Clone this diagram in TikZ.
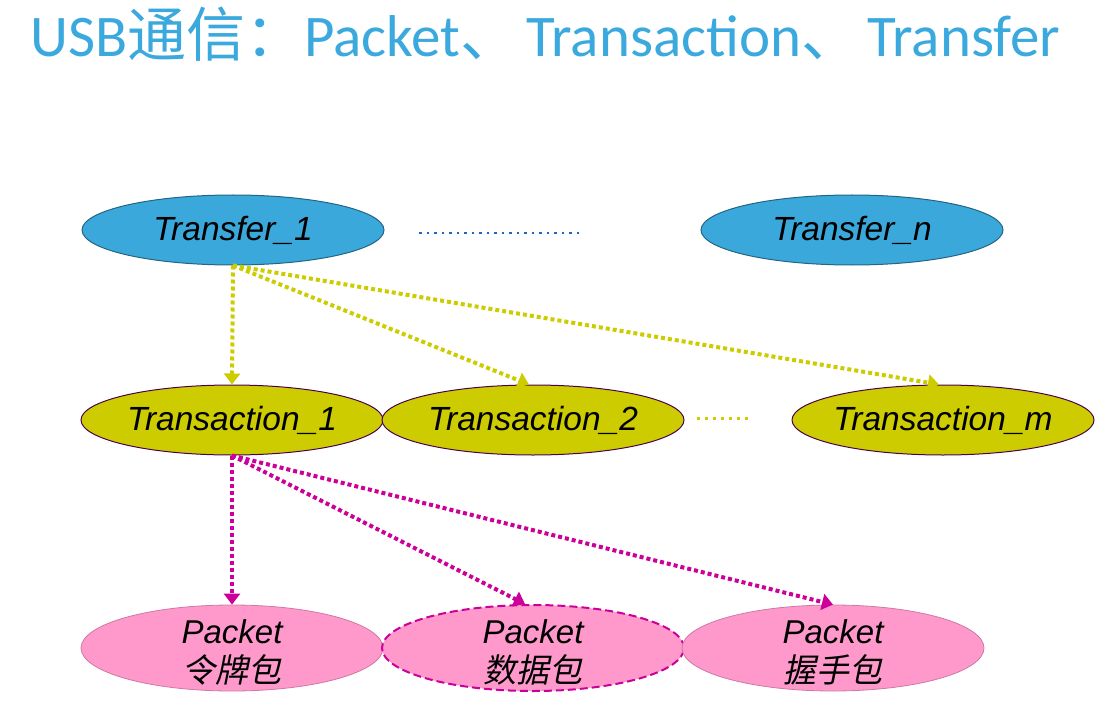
\documentclass[tikz,border=0pt]{standalone}
\usepackage{fontspec}
\setmainfont{Liberation Sans}
\newfontfamily\titlefont{Carlito}
\newfontfamily\cjk{Noto Sans CJK SC}
\newfontfamily\cjkit[FakeSlant=0.2]{Noto Sans CJK SC}
\usetikzlibrary{shapes.geometric,arrows.meta}
\definecolor{titleblue}{HTML}{3BA9DE}
\definecolor{xferblue}{HTML}{3AA8DA}
\definecolor{transyel}{HTML}{CCCC00}
\definecolor{pktpink}{HTML}{FF99CC}
\definecolor{pktmag}{HTML}{CC0099}
\tikzset{
  blob/.style={ellipse, minimum width=302pt, minimum height=70pt, inner xsep=-30pt, inner ysep=-15pt, font=\itshape\fontsize{33.5}{36}\selectfont},
  xfer/.style={blob, fill=xferblue, draw=xferblue!60!black, line width=1pt},
  trans/.style={blob, fill=transyel, draw=violet!60!black, line width=1pt},
  pkt/.style={blob, minimum height=86pt, fill=pktpink, draw=pktpink!80!black, line width=0.8pt},
  pkttext/.style={label={[align=center, yshift=-4pt, font=\itshape\fontsize{33}{39}\selectfont]center:#1}},
  dotarrow/.style={line width=4pt, dash pattern=on 4pt off 3pt, -{Triangle[width=16pt,length=11pt]}}
}
\begin{document}
\begin{tikzpicture}
[x=1pt, y=-1pt]
\useasboundingbox (0,0) rectangle (1110,711);
% title
\node [anchor=base west, inner sep=0pt, text=titleblue, font=\titlefont\fontsize{59}{60}\selectfont] (title) at (30,57) {USB{\cjk 通信：}Packet{\cjk 、}\hspace{7pt}Transaction{\cjk 、}\hspace{7pt}Transfer};
% transfers
\node [xfer] (xfer1) at (233,230) {Transfer\_1};
\node [xfer] (xfern) at (852,230) {Transfer\_n};
\coordinate (xdotA) at (419,233);
\coordinate (xdotB) at (580,233);
\draw [xferblue!75!blue!80!black, line width=2.5pt, dash pattern=on 2.5pt off 5pt] (xdotA) -- (xdotB);
% transactions
\node [trans] (tr1) at (232,420) {Transaction\_1};
\node [trans] (tr2) at (533,420) {Transaction\_2};
\node [trans] (trm) at (943,420) {Transaction\_m};
\coordinate (tdotA) at (697,418);
\coordinate (tdotB) at (752,418);
\draw [transyel, line width=3pt, dash pattern=on 3pt off 5pt] (tdotA) -- (tdotB);
% packets
\node [pkt, pkttext={Packet\\{\cjkit 令牌包}}] (pk1) at (232,648) {};
\node [pkt, draw=pktmag, line width=2pt, dash pattern=on 8pt off 4pt, pkttext={Packet\\{\cjkit 数据包}}] (pk2) at (533,648) {};
\node [pkt, pkttext={Packet\\{\cjkit 握手包}}] (pk3) at (833,648) {};
% transfer -> transactions
\draw [dotarrow, transyel] (xfer1.south) -- (tr1.north);
\draw [dotarrow, transyel] (xfer1.south) -- ([xshift=-4pt]tr2.north);
\draw [dotarrow, transyel] (xfer1.south) -- ([xshift=-4pt]trm.north);
% transaction -> packets
\draw [dotarrow, pktmag] (tr1.south) -- (pk1.north);
\draw [dotarrow, pktmag] (tr1.south) -- ([xshift=-8pt]pk2.north);
\draw [dotarrow, pktmag] (tr1.south) -- (pk3.north);
\end{tikzpicture}
\end{document}
